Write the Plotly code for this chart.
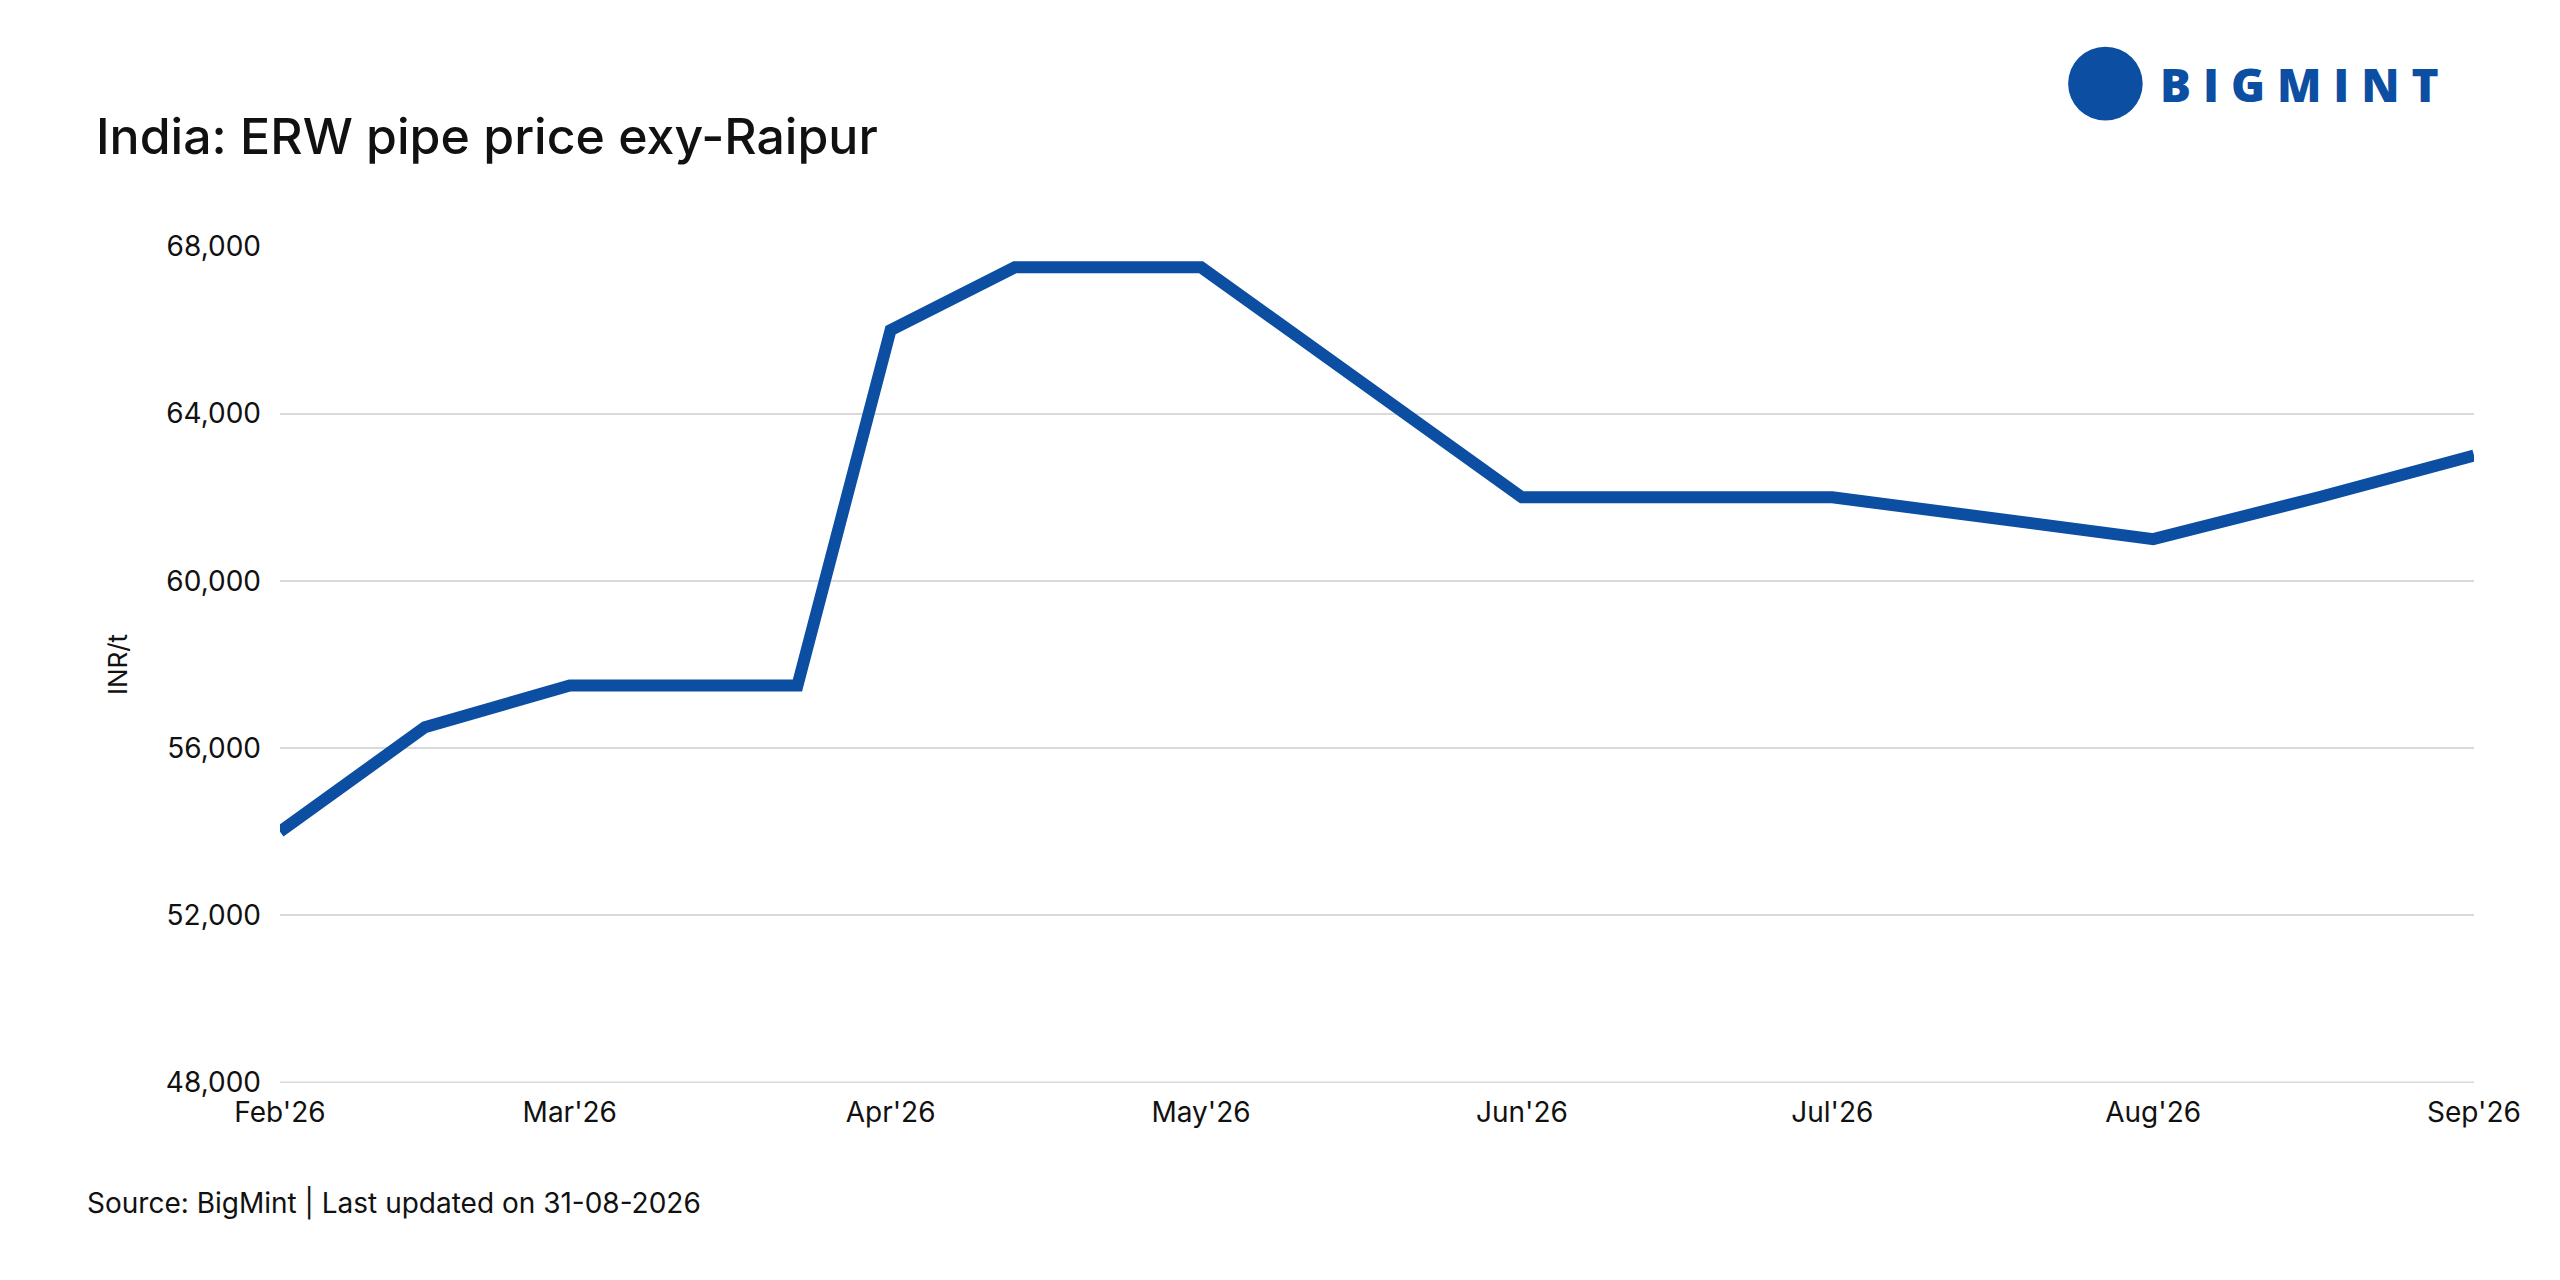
import plotly.graph_objects as go

dates = [
    "2026-02-01", "2026-02-15", "2026-03-01", "2026-03-23", "2026-04-01",
    "2026-04-13", "2026-05-01", "2026-06-01", "2026-07-01", "2026-08-01",
    "2026-08-17", "2026-09-01",
]
prices = [54000, 56500, 57500, 57500, 66000, 67500, 67500, 62000, 62000, 61000, 62000, 63000]
tick_vals = ["2026-02-01", "2026-03-01", "2026-04-01", "2026-05-01",
             "2026-06-01", "2026-07-01", "2026-08-01", "2026-09-01"]
tick_text = ["Feb'26", "Mar'26", "Apr'26", "May'26", "Jun'26", "Jul'26", "Aug'26", "Sep'26"]
y_ticks = [48000, 52000, 56000, 60000, 64000, 68000]

FONT = "Inter, Liberation Sans, sans-serif"
BLUE = "#0B4EA2"

fig = go.Figure()
fig.add_trace(go.Scatter(
    x=dates, y=prices, mode="lines",
    line={"color": BLUE, "width": 12},
    showlegend=False,
))

fig.update_layout(
    width=2560, height=1280,
    paper_bgcolor="white", plot_bgcolor="white",
    margin={"l": 272, "r": 94, "t": 238, "b": 205},
    font={"family": FONT, "size": 28, "color": "#111111"},
    xaxis={
        "type": "date", "range": ["2026-02-01", "2026-09-01"],
        "tickvals": tick_vals, "ticktext": tick_text,
        "showgrid": False, "zeroline": False, "showline": False,
        "ticks": "", "ticklabelstandoff": 10,
    },
    yaxis={
        "range": [47990, 68010], "tickvals": y_ticks,
        "tickformat": ",", "showgrid": True, "gridcolor": "#d9d9d9", "gridwidth": 2,
        "zeroline": False, "ticks": "", "ticklabelstandoff": 18,
        "title": {"text": "INR/t", "standoff": 30, "font": {"size": 26}},
    },
    annotations=[
        {"text": "India: ERW pipe price exy-Raipur", "xref": "paper", "yref": "paper",
         "x": -0.085, "y": 1.131, "xanchor": "left", "yanchor": "middle", "showarrow": False,
         "font": {"size": 50, "family": FONT, "color": "#111111", "weight": 500}},
        {"text": "Source: BigMint | Last updated on 31-08-2026", "xref": "paper", "yref": "paper",
         "x": -0.089, "y": -0.143, "xanchor": "left", "yanchor": "middle", "showarrow": False,
         "font": {"size": 28, "family": FONT, "color": "#111111"}},
        {"text": "B I G M I N T", "xref": "paper", "yref": "paper",
         "x": 0.985, "y": 1.194, "xanchor": "right", "yanchor": "middle", "showarrow": False,
         "font": {"size": 46, "family": "Open Sans", "color": BLUE, "weight": 800}},
    ],
    shapes=[
        {"type": "circle", "xref": "paper", "yref": "paper",
         "x0": 0.815, "x1": 0.849, "y0": 1.150, "y1": 1.238,
         "fillcolor": BLUE, "line": {"width": 0}},
        {"type": "line", "xref": "paper", "yref": "y", "x0": 0, "x1": 1,
         "y0": 48000, "y1": 48000, "line": {"color": "#d9d9d9", "width": 2}, "layer": "below"},
    ],
)

fig.write_html("out.html")
